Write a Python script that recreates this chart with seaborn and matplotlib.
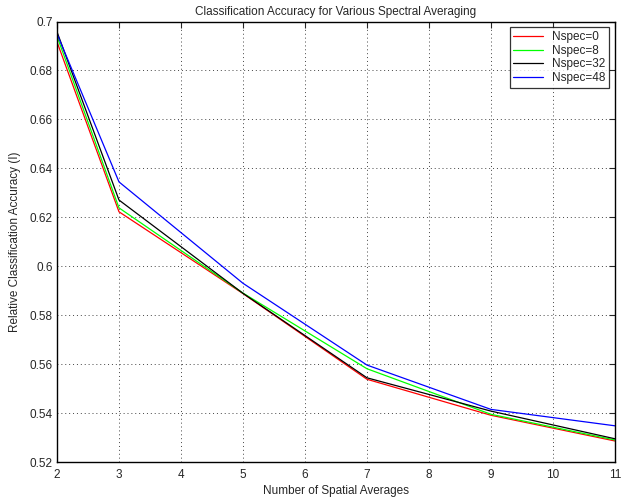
import pandas as pd
import numpy as np
import matplotlib
matplotlib.use('Agg')
import matplotlib.pyplot as plt
import seaborn as sns

# Values
spatial_avgs = [2, 3, 5, 7, 9, 11]
nspec_0 = [0.6917, 0.6223, 0.5889, 0.5539, 0.5392, 0.5287]
nspec_8 = [0.6940, 0.6239, 0.5891, 0.5582, 0.5396, 0.5291]
nspec_32 = [0.6958, 0.6271, 0.5890, 0.5545, 0.5409, 0.5296]
nspec_48 = [0.6950, 0.6345, 0.5931, 0.5597, 0.5416, 0.5349]

labels = ['Nspec=0', 'Nspec=8', 'Nspec=32', 'Nspec=48']
colors = ['#ff0000', '#00ff00', '#000000', '#0000ff']

df = pd.DataFrame({
    'x': spatial_avgs * 4,
    'acc': nspec_0 + nspec_8 + nspec_32 + nspec_48,
    'series': np.repeat(labels, len(spatial_avgs)),
})

sns.set_style('white')
plt.rcParams['font.family'] = ['Liberation Sans', 'DejaVu Sans']

fig = plt.figure(figsize=(6.29, 4.98), dpi=100)
ax = fig.add_axes([0.0906, 0.0717, 0.8871, 0.8851])

sns.lineplot(data=df, x='x', y='acc', hue='series', hue_order=labels,
             palette=colors, linewidth=0.9, ax=ax, legend=True)

ax.set_xlim(2, 11)
ax.set_ylim(0.52, 0.7)
ax.set_xticks(range(2, 12))
ax.set_yticks(np.arange(0.52, 0.7001, 0.02))
ax.set_yticklabels(['0.52', '0.54', '0.56', '0.58', '0.6', '0.62',
                    '0.64', '0.66', '0.68', '0.7'])
ax.grid(True, linestyle=(0, (1, 3)), color='#444444', linewidth=0.7)
ax.tick_params(direction='in', length=4, width=0.8, labelsize=8.5,
               top=True, right=True, pad=3)
ax.tick_params(axis='x', pad=5)
for s in ax.spines.values():
    s.set_color('black')
    s.set_linewidth(1.0)

ax.set_xlabel('Number of Spatial Averages', fontsize=8.5, labelpad=3)
ax.set_ylabel('Relative Classification Accuracy (I)', fontsize=8.5, labelpad=6)
ax.set_title('Classification Accuracy for Various Spectral Averaging',
             fontsize=8.5, pad=5)

leg = ax.legend(loc='upper right', fontsize=8.5, handlelength=2.5,
                frameon=True, fancybox=False, borderpad=0.3,
                labelspacing=0.15, borderaxespad=0.5, handletextpad=0.8)
leg.get_frame().set_edgecolor('black')
leg.get_frame().set_linewidth(0.9)

fig.savefig('out.png', dpi=100)
